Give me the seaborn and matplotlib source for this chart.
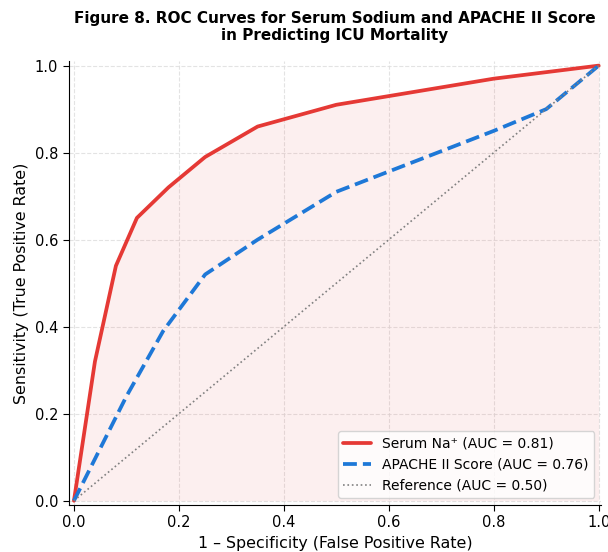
import numpy as np
import pandas as pd
import seaborn as sns
import matplotlib
matplotlib.use("Agg")
import matplotlib.pyplot as plt

# ROC points
fpr_na = [0.0, 0.04, 0.08, 0.12, 0.18, 0.25, 0.35, 0.50, 0.80, 1.0]
tpr_na = [0.0, 0.32, 0.54, 0.65, 0.72, 0.79, 0.86, 0.91, 0.97, 1.0]

fpr_apache = [0.0, 0.05, 0.10, 0.17, 0.25, 0.35, 0.50, 0.65, 0.80, 0.90, 0.95, 1.0]
tpr_apache = [0.0, 0.12, 0.24, 0.39, 0.52, 0.60, 0.71, 0.78, 0.85, 0.90, 0.95, 1.0]

ref = [0.0, 1.0]

labels = ["Serum Na\u207a (AUC = 0.81)",
          "APACHE II Score (AUC = 0.76)",
          "Reference (AUC = 0.50)"]

sns.set_style("white", {"axes.edgecolor": "black", "text.color": "black",
                        "axes.labelcolor": "black", "xtick.color": "black",
                        "ytick.color": "black"})
plt.rcParams["font.family"] = ["DejaVu Sans"]

fig, ax = plt.subplots(figsize=(6.08, 5.52), dpi=100)
fig.subplots_adjust(left=0.113, right=0.989, top=0.889, bottom=0.085)

ax.fill_between(fpr_na, tpr_na, 0, color="#e53935", alpha=0.08, linewidth=0)

sns.lineplot(x=fpr_na, y=tpr_na, ax=ax, color="#e53935", linewidth=2.7,
             label=labels[0], sort=False)
sns.lineplot(x=fpr_apache, y=tpr_apache, ax=ax, color="#1e78d7", linewidth=2.7,
             linestyle="--", label=labels[1], sort=False)
sns.lineplot(x=ref, y=ref, ax=ax, color="gray", linewidth=1.2,
             linestyle=":", label=labels[2], sort=False)

ax.set_xlim(-0.01, 1.005)
ax.set_ylim(-0.01, 1.01)
ax.set_xticks([0.0, 0.2, 0.4, 0.6, 0.8, 1.0])
ax.set_yticks([0.0, 0.2, 0.4, 0.6, 0.8, 1.0])
ax.tick_params(axis="both", labelsize=10.5, length=4, left=True, bottom=True)
ax.grid(True, linestyle="--", color="#dddddd", linewidth=0.8, alpha=0.8)
sns.despine(ax=ax)

ax.set_xlabel("1 \u2013 Specificity (False Positive Rate)", fontsize=11.4)
ax.set_ylabel("Sensitivity (True Positive Rate)", fontsize=11.4)
ax.set_title("Figure 8. ROC Curves for Serum Sodium and APACHE II Score\nin Predicting ICU Mortality",
             fontsize=11, fontweight="bold", pad=15)

ax.legend(loc="lower right", fontsize=10, frameon=True)

plt.savefig("out.png", dpi=100)
